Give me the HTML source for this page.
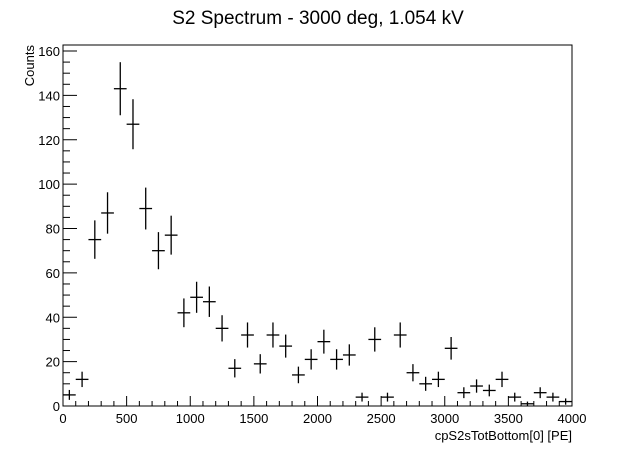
<!DOCTYPE html>
<html><head><meta charset="utf-8"><style>
body{margin:0;background:#fff;}
svg{display:block;font-family:"Liberation Sans",Arial,sans-serif;}
</style></head><body>
<svg id="c" width="636" height="453">
<text x="318" y="24" text-anchor="middle" font-size="19" fill="#000">S2 Spectrum - 3000 deg, 1.054 kV</text>
<text transform="translate(34,45) rotate(-90)" text-anchor="end" font-size="13">Counts</text>
<text x="572" y="440" text-anchor="end" font-size="13">cpS2sTotBottom[0] [PE]</text>
<g id="axes"></g><g id="marks"></g>
</svg>
<script>
const binCenters=[50,150,250,350,450,550,650,750,850,950,1050,1150,1250,1350,1450,1550,1650,1750,1850,1950,2050,2150,2250,2350,2450,2550,2650,2750,2850,2950,3050,3150,3250,3350,3450,3550,3650,3750,3850,3950];
const counts=[5,12,75,87,143,127,89,70,77,42,49,47,35,17,32,19,32,27,14,21,29,21,23,4,30,4,32,15,10,12,26,6,9,7,12,4,1,6,4,2];
const xTicks=[0,500,1000,1500,2000,2500,3000,3500,4000];
const yTicks=[0,20,40,60,80,100,120,140,160];
const binWidth=100;
const L=63,R=572,B=406,T=45;
const x=v=>L+(R-L)*v/4000;
const y=v=>B-(B-51)*v/160;
const NS="http://www.w3.org/2000/svg";
const ax=document.getElementById('axes'),mk=document.getElementById('marks');
function ln(p,x1,y1,x2,y2,w){const e=document.createElementNS(NS,'line');e.setAttribute('x1',x1);e.setAttribute('y1',y1);e.setAttribute('x2',x2);e.setAttribute('y2',y2);e.setAttribute('stroke','#000');e.setAttribute('stroke-width',w||1);p.appendChild(e);return e;}
const fr=document.createElementNS(NS,'rect');
fr.setAttribute('x',L);fr.setAttribute('y',T);fr.setAttribute('width',R-L);fr.setAttribute('height',B-T);fr.setAttribute('fill','none');fr.setAttribute('stroke','#000');


ax.appendChild(fr);
for(let v=0;v<=4000;v+=100){const t=ln(ax,x(v),B,x(v),B-(v%500===0?10:5));

}
for(let v=0;v<=160;v+=5){const t=ln(ax,L,y(v),L+(v%20===0?14:7),y(v));

}
xTicks.forEach(v=>{const t=document.createElementNS(NS,'text');t.setAttribute('x',x(v));t.setAttribute('y',B+17);t.setAttribute('text-anchor','middle');t.setAttribute('font-size','13');t.textContent=v;


ax.appendChild(t);});
yTicks.forEach(v=>{const t=document.createElementNS(NS,'text');t.setAttribute('x',L-3);t.setAttribute('y',y(v)+5);t.setAttribute('text-anchor','end');t.setAttribute('font-size','13');t.textContent=v;


ax.appendChild(t);});
binCenters.forEach((c,i)=>{const n=counts[i];const g=document.createElementNS(NS,'g');


const e=Math.sqrt(n);
ln(g,x(c-binWidth/2),y(n),x(c+binWidth/2),y(n),1.3);
ln(g,x(c),y(n+e),x(c),Math.min(B,y(n-e)),1.3);
mk.appendChild(g);});
</script>
</body></html>
